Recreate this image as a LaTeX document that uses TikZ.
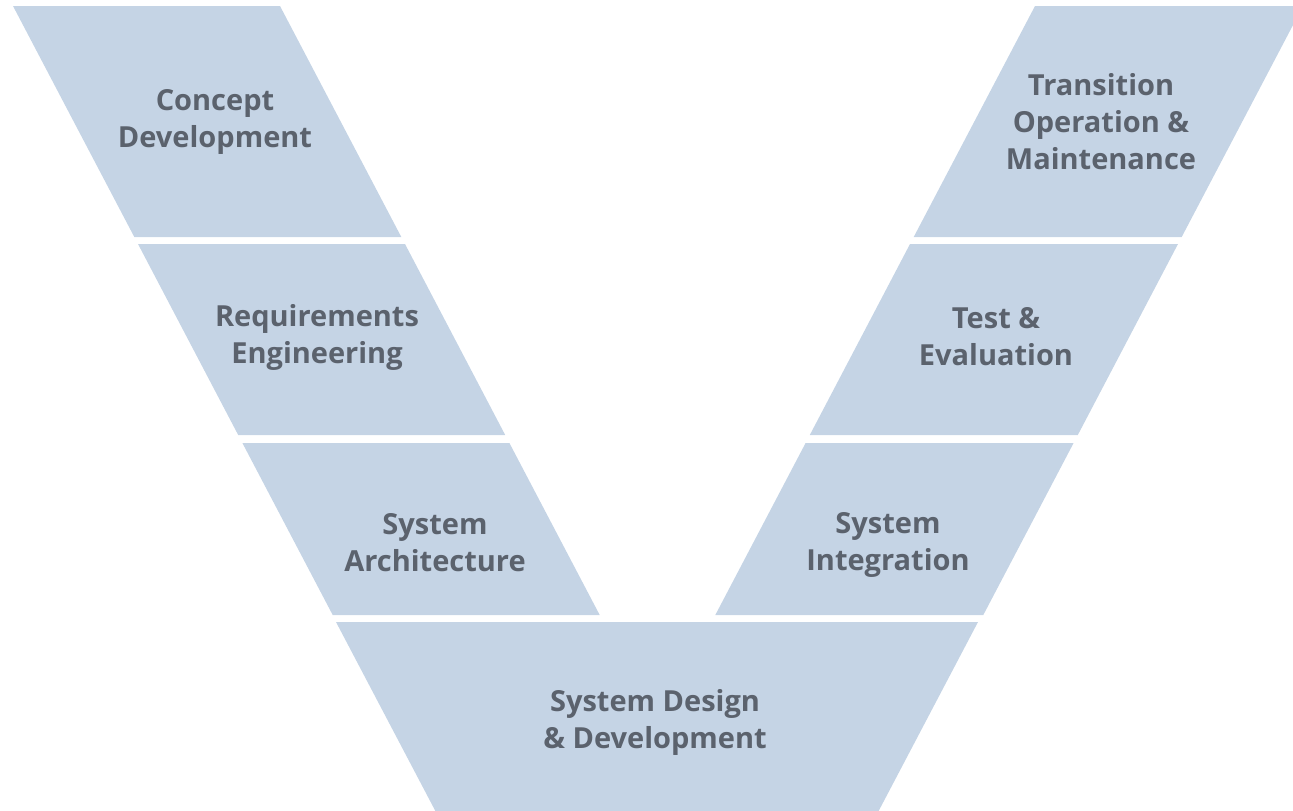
\documentclass[tikz,border=0pt]{standalone}
\usepackage{fontspec}
\setmainfont{Open Sans}
\definecolor{bandfill}{HTML}{C5D4E5}
\definecolor{labelgrey}{HTML}{5B626D}
\begin{document}
\begin{tikzpicture}[x=1pt,y=-1pt,
  band/.style={fill=bandfill,draw=none},
  lbl/.style={text=labelgrey,align=center,font=\bfseries\fontsize{29}{37}\selectfont,inner sep=0pt}]
\useasboundingbox (0,0) rectangle (1293,811);
\clip (0,0) rectangle (1293,811);
% left arm
\path[band] (13,6) -- (280,6) -- (401.3,237) -- (134.3,237) -- cycle;
\path[band] (138,244) -- (405,244) -- (505.2,435) -- (238.2,435) -- cycle;
\path[band] (242.4,443) -- (509.4,443) -- (599.7,615) -- (332.7,615) -- cycle;
% right arm
\path[band] (1035,6) -- (1303,6) -- (1181.7,237) -- (913.7,237) -- cycle;
\path[band] (910,244) -- (1178,244) -- (1077.8,435) -- (809.8,435) -- cycle;
\path[band] (805.6,443) -- (1073.6,443) -- (983.3,615) -- (715.3,615) -- cycle;
% bottom
\path[band] (336,622) -- (978,622) -- (876,816) -- (438,816) -- cycle;
% labels
\node[lbl] (cd) at (215,122) {Concept\\Development};
\node[lbl] (re) at (317,337) {Requirements\\Engineering};
\node[lbl] (sa) at (435,543) {System\\Architecture};
\node[lbl] (tom) at (1101,122) {Transition\\Operation \&\\Maintenance};
\node[lbl] (te) at (996,337) {Test \&\\Evaluation};
\node[lbl] (si) at (888,545) {System\\Integration};
\node[lbl] (sdd) at (655,722) {System Design\\\& Development};
\end{tikzpicture}
\end{document}
